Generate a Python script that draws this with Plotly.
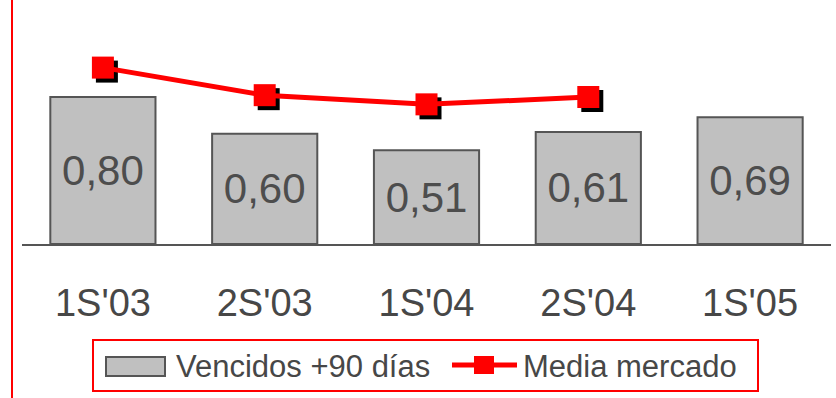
import plotly.graph_objects as go

# ---- data
periodos = ["1S'03", "2S'03", "1S'04", "2S'04", "1S'05"]
vencidos = [0.80, 0.60, 0.51, 0.61, 0.69]
etiquetas = ["0,80", "0,60", "0,51", "0,61", "0,69"]
media_x = ["1S'03", "2S'03", "1S'04", "2S'04"]
media_mercado = [0.96, 0.81, 0.76, 0.80]
leyenda = ["Vencidos +90 días", "Media mercado"]

W, H = 836, 398
ml, mr, mt, mb = 22, 5, 10, 154
plot_w = W - ml - mr
plot_h = H - mt - mb
y_max = 1.2735

FONT = "Liberation Sans, Arial"
ROJO = "#ff0000"
GRIS = "#c0c0c0"
BORDE = "#555555"
TEXTO = "#474747"


def px_x(x):
    return (x - ml) / plot_w


def px_y(y):
    return (H - mb - y) / plot_h


# shadow offset for the markers (in px)
dx = 4 * 5 / plot_w
dy = 4 * y_max / plot_h

fig = go.Figure()

fig.add_trace(go.Bar(
    x=periodos, y=vencidos, name=leyenda[0],
    text=etiquetas, textposition="inside", insidetextanchor="middle",
    textfont=dict(size=42, color="#4d4d4d", family=FONT),
    marker=dict(color=GRIS, line=dict(color=BORDE, width=2)),
))

# black shadow behind the squares
fig.add_trace(go.Scatter(
    x=media_x, y=media_mercado, mode="markers",
    marker=dict(symbol="square", size=22, color="black"),
    xaxis="x2", yaxis="y2", hoverinfo="skip",
))

fig.add_trace(go.Scatter(
    x=media_x, y=media_mercado, mode="lines+markers", name=leyenda[1],
    line=dict(color=ROJO, width=5),
    marker=dict(symbol="square", size=22, color=ROJO),
    xaxis="x3", yaxis="y3",
))

cat_range = [-0.5, 4.5]
fig.update_layout(
    width=W, height=H,
    margin=dict(l=ml, r=mr, t=mt, b=mb),
    paper_bgcolor="white", plot_bgcolor="white",
    bargap=0.35,
    showlegend=False,
    font=dict(family=FONT, color=TEXTO),
    xaxis=dict(type="category", categoryorder="array", categoryarray=periodos,
               range=cat_range, showline=True, linecolor=BORDE, linewidth=2,
               showgrid=False, ticks="", ticklabelstandoff=24,
               tickfont=dict(size=38, color=TEXTO)),
    yaxis=dict(range=[0, y_max], visible=False, showgrid=False),
    xaxis2=dict(type="category", categoryorder="array", categoryarray=periodos,
                range=[cat_range[0] - dx, cat_range[1] - dx],
                overlaying="x", visible=False),
    yaxis2=dict(range=[dy, y_max + dy], overlaying="y", visible=False),
    xaxis3=dict(type="category", categoryorder="array", categoryarray=periodos,
                range=cat_range, overlaying="x", visible=False),
    yaxis3=dict(range=[0, y_max], overlaying="y", visible=False),
)

# red vertical rule at the left edge
fig.add_shape(type="line", xref="paper", yref="paper",
              x0=px_x(12), x1=px_x(12), y0=px_y(H), y1=px_y(0),
              line=dict(color=ROJO, width=2))

# legend drawn by hand (box, swatches, labels)
fig.add_shape(type="rect", xref="paper", yref="paper",
              x0=px_x(93), x1=px_x(758), y0=px_y(391), y1=px_y(340),
              line=dict(color=ROJO, width=2), fillcolor="white")
fig.add_shape(type="rect", xref="paper", yref="paper",
              x0=px_x(106), x1=px_x(165), y0=px_y(376), y1=px_y(357),
              line=dict(color=BORDE, width=2), fillcolor=GRIS)
fig.add_shape(type="line", xref="paper", yref="paper",
              x0=px_x(452), x1=px_x(517), y0=px_y(365), y1=px_y(365),
              line=dict(color=ROJO, width=5))
fig.add_shape(type="rect", xref="paper", yref="paper",
              x0=px_x(474), x1=px_x(494), y0=px_y(374), y1=px_y(356),
              line=dict(width=0), fillcolor=ROJO)
for txt, x in zip(leyenda, [174, 521]):
    fig.add_annotation(text=txt, xref="paper", yref="paper",
                       x=px_x(x), y=px_y(366), xanchor="left", yanchor="middle",
                       showarrow=False, font=dict(size=31, color=TEXTO, family=FONT))

fig.write_html("out.html", config={"displayModeBar": False},
               post_script="document.body.style.margin='0px';")
